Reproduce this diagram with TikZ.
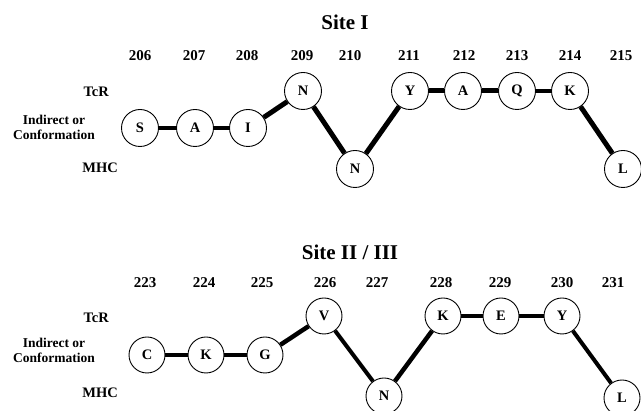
\documentclass[tikz,border=0pt]{standalone}
\usepackage{fontspec}
\setmainfont{Liberation Serif}
\begin{document}
\begin{tikzpicture}[x=1pt,y=-1pt,
  res/.style={circle,draw=black,line width=0.9pt,fill=white,minimum size=37pt,inner sep=0pt,font=\fontsize{14.5}{14.5}\selectfont\bfseries},
  resb/.style={res,minimum size=36pt},
  num/.style={font=\fontsize{15}{15}\selectfont\bfseries,inner sep=0pt},
  ttl/.style={font=\fontsize{21}{21}\selectfont\bfseries,inner sep=0pt},
  lab/.style={font=\fontsize{14.5}{14.5}\selectfont\bfseries,inner sep=0pt,anchor=east},
  lab2/.style={font=\fontsize{13.5}{15}\selectfont\bfseries,inner sep=0pt,align=center},
  thk/.style={line width=5pt},
  med/.style={line width=4pt}]
\useasboundingbox (0,0) rectangle (641,411);
% ---------- Site I ----------
\node[ttl] (t1) at (345,22) {Site I};
\foreach \n/\x in {206/140,207/194,208/247,209/302,210/350,211/409,212/464,213/517,214/570,215/621}
  \node[num] (n\n) at (\x,56) {\n};
\node[lab] (tcr1) at (109,92) {TcR};
\node[lab2] (ind1) at (54,127) {Indirect or\\Conformation};
\node[lab] (mhc1) at (118,168) {MHC};
\node[res] (s1) at (140,128) {S};
\node[res] (a1) at (195,128) {A};
\node[res] (i1) at (248,128) {I};
\node[res] (na) at (303,91) {N};
\node[res] (nb) at (355,169) {N};
\node[res] (y1) at (410,91) {Y};
\node[res] (a2) at (463,91) {A};
\node[res] (q1) at (517,91) {Q};
\node[res] (k1) at (570,91) {K};
\node[res] (l1) at (623,169) {L};
\draw[med] (s1) -- (a1);
\draw[med] (a1) -- (i1);
\draw[thk] (i1) -- (na);
\draw[thk] (na) -- (nb);
\draw[thk] (nb) -- (y1);
\draw[thk] (y1) -- (a2);
\draw[thk] (a2) -- (q1);
\draw[med] (q1) -- (k1);
\draw[thk] (k1) -- (l1);
% ---------- Site II / III ----------
\node[ttl] (t2) at (350,252) {Site II / III};
\foreach \n/\x in {223/145,224/204,225/262,226/325,227/377,228/441,229/500,230/562,231/613}
  \node[num] (n\n) at (\x,283) {\n};
\node[lab] (tcr2) at (109,318) {TcR};
\node[lab2] (ind2) at (54,350) {Indirect or\\Conformation};
\node[lab] (mhc2) at (118,393) {MHC};
\node[resb] (c2) at (147,355) {C};
\node[resb] (k2) at (206,355) {K};
\node[resb] (g2) at (265,355) {G};
\node[resb] (v2) at (324,316) {V};
\node[resb] (n2) at (384,396) {N};
\node[resb] (k3) at (443,316) {K};
\node[resb] (e2) at (501,316) {E};
\node[resb] (y2) at (562,316) {Y};
\node[resb] (l2) at (622,398) {L};
\draw[med] (c2) -- (k2);
\draw[med] (k2) -- (g2);
\draw[line width=4.5pt] (g2) -- (v2);
\draw[med] (v2) -- (n2);
\draw[line width=4.5pt] (n2) -- (k3);
\draw[med] (k3) -- (e2);
\draw[med] (e2) -- (y2);
\draw[med] (y2) -- (l2);
\end{tikzpicture}
\end{document}
